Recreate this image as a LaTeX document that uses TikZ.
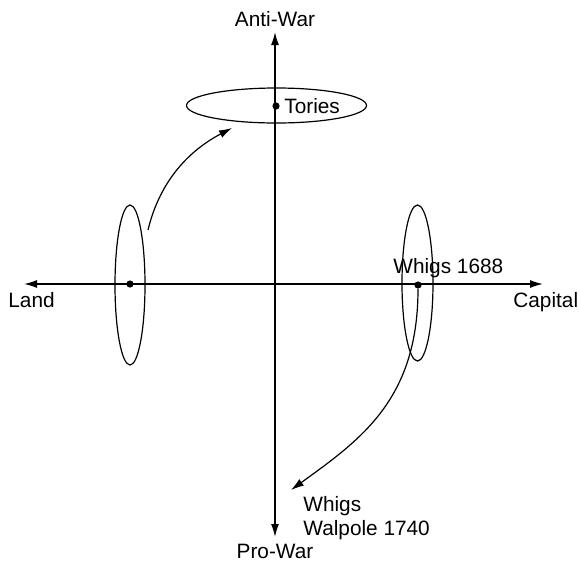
\documentclass[tikz,border=0pt]{standalone}
\usepackage{fontspec}
\setmainfont{Liberation Sans}
\usetikzlibrary{positioning, arrows.meta, shapes.geometric}

\tikzset{
    axis/.style={line width=0.65pt, -{Latex[length=6.5pt,width=4pt]}},
    trend/.style={line width=0.6pt, -{Latex[length=6.5pt,width=4pt]}},
    camp/.style={draw, ellipse, line width=0.6pt, inner sep=0pt},
    campdot/.style={circle, fill, inner sep=0pt, minimum size=3.6pt},
    lbl/.style={inner sep=0pt, anchor=base, font=\fontsize{10.4}{12.5}\selectfont}
}

\begin{document}
\begin{tikzpicture}[x=0.5pt, y=-0.5pt]
    \useasboundingbox (0,0) rectangle (579,563);

    % axes
    \coordinate (origin) at (275,284);
    \coordinate (landEnd) at (24,284);
    \coordinate (capitalEnd) at (543,284);
    \coordinate (antiEnd) at (275,32);
    \coordinate (proEnd) at (275,537);
    \draw[axis] (origin) -- (landEnd);
    \draw[axis] (origin) -- (capitalEnd);
    \draw[axis] (origin) -- (antiEnd);
    \draw[axis] (origin) -- (proEnd);

    \node[lbl] (anti) at (275,26) {Anti-War};
    \node[lbl] (pro) at (275,558) {Pro-War};
    \node[lbl, anchor=base west] (land) at (8,307) {Land};
    \node[lbl, anchor=base west] (capital) at (513,307) {Capital};

    % camps
    \node[camp, minimum width=90pt, minimum height=17.5pt] (toriesBox) at (276.5,105.5) {};
    \node[camp, minimum width=15pt, minimum height=80pt] (landBox) at (130,285) {};
    \node[camp, minimum width=15.5pt, minimum height=78pt] (whigsBox) at (417.5,283) {};

    \node[campdot] (toriesDot) at (276,106) {};
    \node[campdot] (landDot) at (130,284) {};
    \node[campdot] (whigsDot) at (418,285) {};

    \node[lbl, anchor=base west] (tories) at (284,113) {Tories};
    \node[lbl, anchor=base west] (whigs) at (393,273) {Whigs 1688};
    \node[lbl, anchor=base west, align=left] (walpole) at (303,535) {Whigs\\[-0.5pt]Walpole 1740};

    % shifts
    \coordinate (landStart) at (148,230);
    \coordinate (toriesTip) at (232,128);
    \coordinate (walpoleTip) at (291,490);
    \draw[trend] (landStart) .. controls (160,180) and (190,150) .. (toriesTip);
    \draw[trend] (whigsDot) .. controls (418,400) and (360,440) .. (walpoleTip);
\end{tikzpicture}
\end{document}
